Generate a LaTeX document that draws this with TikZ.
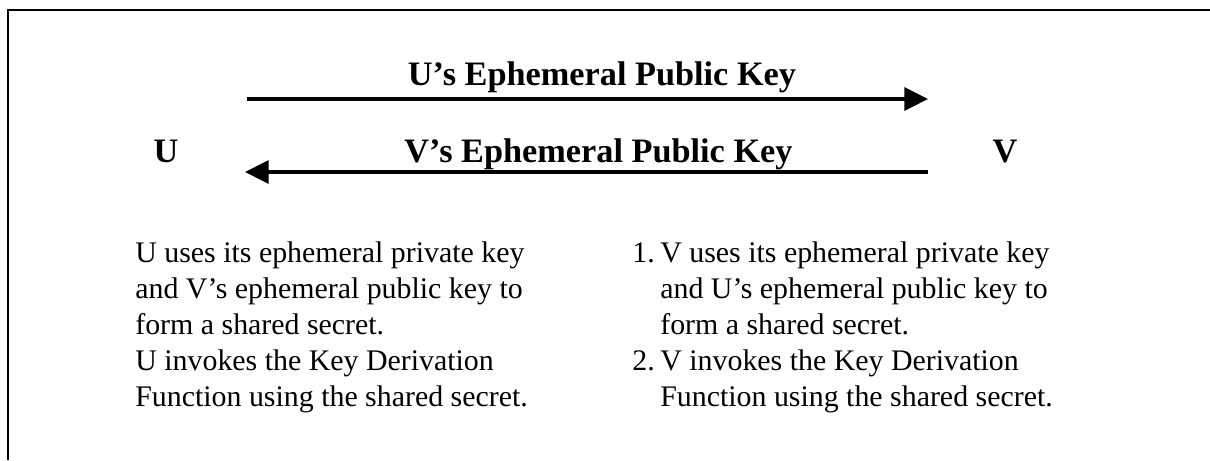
\documentclass[tikz,border=0pt]{standalone}
\usepackage{fontspec}
\setmainfont{Liberation Serif}
\usetikzlibrary{arrows.meta}

\begin{document}
\begin{tikzpicture}[
  party/.style={font=\fontsize{19.5}{23}\selectfont\bfseries, anchor=base},
  keylabel/.style={font=\fontsize{19.5}{23}\selectfont\bfseries, anchor=base},
  steps/.style={font=\fontsize{17}{20.5}\selectfont, anchor=base west, inner sep=0pt},
  msg/.style={line width=2.3pt, -{Triangle[length=13.5pt,width=13pt]}}
]
%
	\useasboundingbox (0,0) rectangle (24.2,-9.2);
	\draw[line width=1.1pt] (0.16,-9.2) -- (0.16,-0.2) -- (24.2,-0.2);
%
	\node[party] (u) at (3.32,-3.24) {U};
	\node[party] (v) at (20.1,-3.24) {V};
%
	\coordinate (uout) at (4.94,-1.98);
	\coordinate (vin) at (18.56,-1.98);
	\coordinate (vout) at (18.56,-3.44);
	\coordinate (uin) at (4.9,-3.44);
	\draw[msg] (uout) -- (vin);
	\draw[msg] (vout) -- (uin);
%
	\node[keylabel] (ukey) at (12.04,-1.70) {U’s Ephemeral Public Key};
	\node[keylabel] (vkey) at (11.97,-3.24) {V’s Ephemeral Public Key};
%
	\node[steps] (usteps) at (2.7,-5.24) {\begin{tabular}[t]{@{}l@{}}
		U uses its ephemeral private key\\
		and V’s ephemeral public key to\\
		form a shared secret.\\
		U invokes the Key Derivation\\
		Function using the shared secret.
	\end{tabular}};
	\node[steps] (vsteps) at (12.64,-5.24) {\begin{tabular}[t]{@{}p{0.56cm}@{}l@{}}
		1. & V uses its ephemeral private key\\
		   & and U’s ephemeral public key to\\
		   & form a shared secret.\\
		2. & V invokes the Key Derivation\\
		   & Function using the shared secret.
	\end{tabular}};
\end{tikzpicture}
\end{document}
